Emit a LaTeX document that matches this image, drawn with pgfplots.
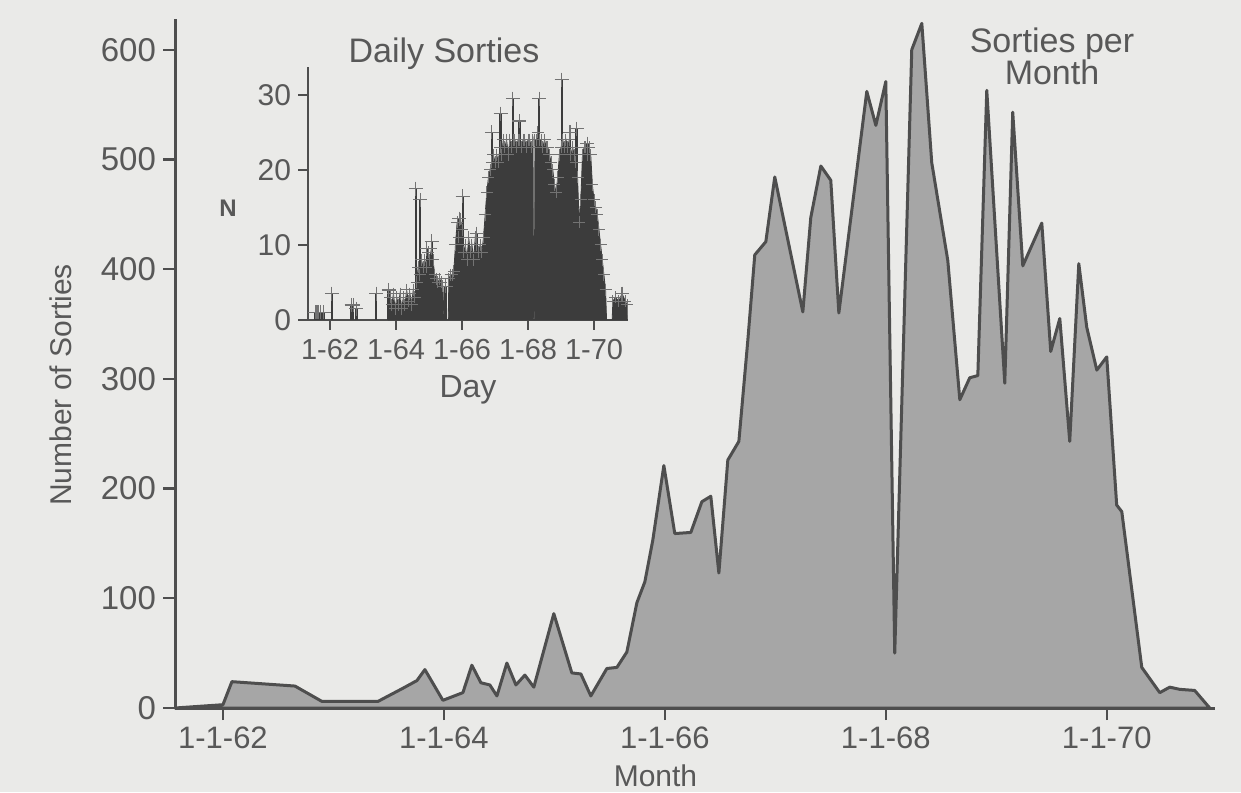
\documentclass[border=0pt]{standalone}
\usepackage{pgfplots}
\usepackage{pgfplotstable}
\pgfplotsset{compat=1.18}
\usepackage{fontspec}
\setmainfont{Liberation Sans}

\definecolor{bg}{RGB}{234,234,232}
\definecolor{ink}{RGB}{78,78,78}
\definecolor{txt}{RGB}{88,88,88}
\definecolor{areafill}{RGB}{166,166,166}
\definecolor{bardark}{RGB}{60,60,60}

% monthly sorties (year, count)
\pgfplotstableread{
yr cnt
1961.566 0
1962.000 3
1962.081 24
1962.652 20
1962.896 6
1963.403 6
1963.629 18
1963.756 25
1963.828 35
1963.991 7
1964.172 14
1964.253 39
1964.335 23
1964.416 21
1964.480 11
1964.570 41
1964.652 21
1964.733 30
1964.814 19
1964.995 86
1965.158 32
1965.240 31
1965.330 11
1965.475 36
1965.566 37
1965.656 51
1965.747 96
1965.819 115
1965.891 153
1965.991 221
1966.090 159
1966.235 160
1966.335 188
1966.416 193
1966.489 123
1966.570 226
1966.670 243
1966.751 335
1966.814 413
1966.914 425
1966.995 484
1967.249 361
1967.321 447
1967.412 494
1967.502 481
1967.575 360
1967.828 562
1967.910 531
1968.000 571
1968.081 50
1968.235 600
1968.326 624
1968.416 497
1968.561 408
1968.670 281
1968.760 301
1968.833 303
1968.914 563
1969.077 296
1969.149 543
1969.240 403
1969.412 442
1969.493 325
1969.575 355
1969.665 243
1969.747 405
1969.819 347
1969.910 308
1970.000 320
1970.090 185
1970.136 179
1970.317 37
1970.480 14
1970.570 19
1970.661 17
1970.796 16
1970.932 0
}\monthly

% daily sorties, upper envelope
\pgfplotstableread{
yr n
1963.76 0
1963.77 4
1963.82 3
1963.87 2
1963.92 3.5
1963.97 1.5
1964.02 3
1964.07 2
1964.12 3.5
1964.17 1.5
1964.22 3
1964.27 2
1964.32 4
1964.37 2.5
1964.42 3.5
1964.47 2
1964.52 4
1964.57 3
1964.62 5
1964.67 7
1964.72 6
1964.77 8
1964.82 7
1964.87 8
1964.92 7
1964.97 9
1965.02 8
1965.07 9.5
1965.12 8
1965.17 6
1965.22 5.5
1965.27 5
1965.32 5.5
1965.37 5
1965.42 4.5
1965.45 0
1965.58 0
1965.60 5.5
1965.65 6
1965.70 6
1965.75 6.5
1965.80 10
1965.85 13
1965.90 11
1965.95 13.5
1966.00 12
1966.05 9
1966.10 10
1966.15 8
1966.20 11
1966.25 9
1966.30 10
1966.35 8
1966.40 11
1966.45 10
1966.50 9
1966.55 10
1966.60 9
1966.65 11
1966.70 14
1966.75 17
1966.80 19
1966.85 20
1966.90 21
1966.95 22
1967.00 21
1967.05 22
1967.10 21
1967.15 23
1967.20 22
1967.25 24
1967.30 23
1967.35 24
1967.40 22
1967.45 24
1967.50 23
1967.55 24
1967.60 24
1967.65 23
1967.70 24
1967.75 24
1967.80 23
1967.85 24
1967.90 24
1967.95 23
1968.00 24
1968.05 24
1968.10 23
1968.15 24
1968.17 0
1968.19 0
1968.21 24
1968.25 24
1968.30 25
1968.35 24
1968.40 24
1968.45 23
1968.50 24
1968.55 23
1968.60 23
1968.65 22
1968.70 21
1968.75 20
1968.80 18
1968.85 17
1968.90 19
1968.95 22
1969.00 23
1969.05 24
1969.10 23
1969.15 24
1969.20 23
1969.25 24
1969.30 22
1969.35 23
1969.40 22
1969.45 21
1969.50 19
1969.55 13
1969.60 16
1969.65 22
1969.70 23
1969.75 23
1969.80 22
1969.85 23
1969.90 22
1969.95 18
1970.00 16
1970.05 15
1970.10 14
1970.15 12
1970.20 10
1970.25 8
1970.30 6
1970.35 4
1970.38 0
1970.55 0
1970.57 2.5
1970.65 3
1970.75 2.5
1970.85 3.5
1970.95 2.5
1971.00 2
1971.01 0
}\daily

% single days standing out
\pgfplotstableread{
yr n
1961.55 1
1961.60 1
1961.65 1
1961.72 1
1961.80 1
1962.05 3.5
1962.65 2
1962.70 2
1962.80 1.5
1963.40 3.5
1963.77 4
1964.60 17.5
1964.73 16
1964.93 9.5
1965.08 10.5
1965.50 4.5
1965.92 13.5
1966.02 16.5
1966.44 11.5
1966.90 25
1967.17 27.5
1967.54 29.5
1967.74 26.5
1968.34 29.5
1969.02 32
1969.27 25
1969.47 25.5
1969.80 23.5
1970.85 3.5
}\spikes

\begin{document}
\begin{tikzpicture}
\fill[bg] (0,0) rectangle (620.5pt,396pt);
\useasboundingbox (0,0) rectangle (620.5pt,396pt);

% main chart: sorties per month
\begin{axis}[
  at={(87.5pt,42pt)}, anchor=south west,
  scale only axis, width=520pt, height=344.5pt,
  xmin=1961.566, xmax=1970.98, ymin=0, ymax=628,
  axis lines=left,
  axis line style={ink, line width=1.5pt, -},
  xtick={1962,1964,1966,1968,1970},
  xticklabels={1-1-62,1-1-64,1-1-66,1-1-68,1-1-70},
  ytick={0,100,...,600},
  tick align=outside,
  major tick length=6pt,
  tick style={ink, line width=1.2pt},
  tick label style={txt},
  /pgf/number format/assume math mode=true,
  xticklabel style={font=\fontsize{15.5}{18}\selectfont},
  yticklabel style={font=\fontsize{16.5}{19}\selectfont},
  xlabel={Month},
  ylabel={Number of Sorties},
  label style={txt, font=\fontsize{15}{18}\selectfont},
  xlabel style={at={(axis description cs:0.462,0)}, anchor=base, yshift=-39pt},
  ylabel style={at={(axis description cs:-0.11,0.469)}, anchor=center},
  clip=false,
]
\addplot[draw=ink, line width=1.5pt, fill=areafill, line join=round]
  table[x=yr, y=cnt] {\monthly} \closedcycle;
\end{axis}

\node[txt, align=center, font=\fontsize{17}{16}\selectfont] at (526pt,368pt) {Sorties per\\Month};

% inset: daily sorties
\begin{axis}[
  at={(154pt,236pt)}, anchor=south west,
  scale only axis, width=160pt, height=126.5pt,
  xmin=1961.33, xmax=1971.03, ymin=0, ymax=33.7,
  axis lines=left,
  axis line style={ink, line width=1pt, -},
  xtick={1962,1964,1966,1968,1970},
  xticklabels={1-62,1-64,1-66,1-68,1-70},
  ytick={0,10,20,30},
  tick align=outside,
  major tick length=5pt,
  tick style={ink, line width=0.9pt},
  tick label style={txt},
  /pgf/number format/assume math mode=true,
  xticklabel style={font=\fontsize{14.5}{17}\selectfont, yshift=-1pt},
  yticklabel style={font=\fontsize{15}{18}\selectfont},
  xlabel={Day},
  xlabel style={txt, font=\fontsize{16}{19}\selectfont, yshift=-1pt},
  title={Daily Sorties},
  title style={txt, font=\fontsize{17}{20}\selectfont, yshift=-11pt, xshift=-12pt},
  clip=false,
]
\addplot[fill=bardark, draw=bardark, line width=0.4pt]
  table[x=yr, y=n] {\daily} \closedcycle;
\addplot[only marks, mark=+, mark size=3pt, color=gray!90!black, line width=0.5pt,
  restrict y to domain=0.5:50]
  table[x=yr, y=n] {\daily};
\addplot[ycomb, color=bardark, line width=1.2pt, mark=+, mark size=3.5pt,
  mark options={gray!90!black, line width=0.6pt}]
  table[x=yr, y=n] {\spikes};
\end{axis}

\node[txt, font=\fontsize{12}{14}\selectfont\bfseries] at (114pt,292pt) {N};
\end{tikzpicture}
\end{document}
